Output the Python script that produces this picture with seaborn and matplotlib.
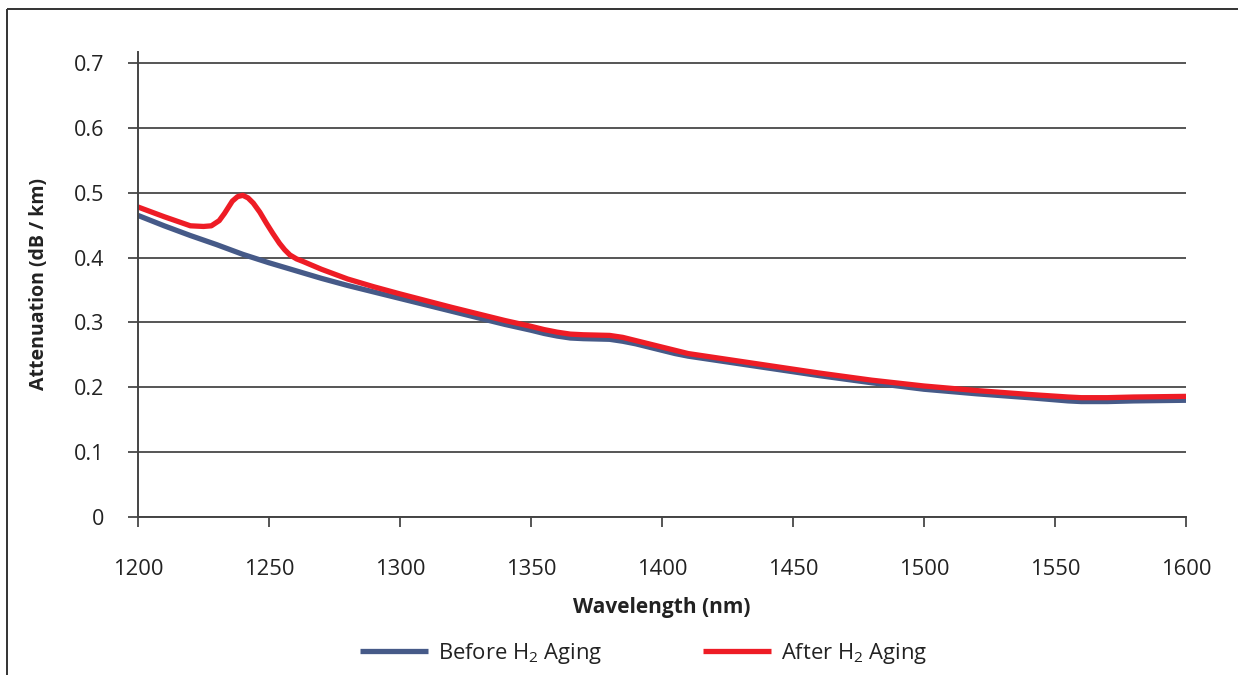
import numpy as np
import pandas as pd
import matplotlib
matplotlib.use("Agg")
import matplotlib.pyplot as plt
from matplotlib.lines import Line2D
import seaborn as sns

# ---- data ----
before_wl = [1200, 1210, 1220, 1230, 1240, 1250, 1260, 1270, 1280, 1290, 1300, 1320,
             1340, 1350, 1355, 1360, 1365, 1370, 1380, 1385, 1390, 1395, 1400, 1405,
             1410, 1420, 1440, 1460, 1480, 1500, 1520, 1540, 1555, 1560, 1570, 1580, 1600]
before_att = [0.465, 0.449, 0.434, 0.420, 0.405, 0.392, 0.380, 0.368, 0.357, 0.347,
              0.337, 0.317, 0.297, 0.288, 0.283, 0.279, 0.276, 0.275, 0.274, 0.271,
              0.267, 0.262, 0.257, 0.252, 0.248, 0.242, 0.230, 0.218, 0.207, 0.197,
              0.190, 0.184, 0.179, 0.178, 0.178, 0.179, 0.180]

after_wl = [1200, 1210, 1220, 1225, 1228, 1231, 1233, 1236, 1238, 1240, 1242, 1244,
            1246.5, 1249, 1251.5, 1254, 1256, 1258, 1260.5, 1263, 1270, 1280, 1290,
            1300, 1320, 1340, 1350, 1355, 1360, 1365, 1370, 1380, 1385, 1390, 1395,
            1400, 1405, 1410, 1420, 1440, 1460, 1480, 1500, 1520, 1540, 1555, 1560,
            1570, 1580, 1600]
after_att = [0.478, 0.463, 0.449, 0.448, 0.449, 0.457, 0.468, 0.487, 0.494, 0.496,
             0.492, 0.484, 0.470, 0.453, 0.437, 0.422, 0.412, 0.404, 0.398, 0.394,
             0.382, 0.367, 0.355, 0.344, 0.323, 0.303, 0.294, 0.289, 0.285, 0.282,
             0.281, 0.280, 0.277, 0.272, 0.267, 0.262, 0.257, 0.252, 0.246, 0.234,
             0.222, 0.211, 0.202, 0.195, 0.189, 0.185, 0.184, 0.184, 0.185, 0.186]

series_names = ["Before H$_2$ Aging", "After H$_2$ Aging"]
x_ticks = [1200, 1250, 1300, 1350, 1400, 1450, 1500, 1550, 1600]
y_ticks = [0, 0.1, 0.2, 0.3, 0.4, 0.5, 0.6, 0.7]
y_tick_labels = ["0", "0.1", "0.2", "0.3", "0.4", "0.5", "0.6", "0.7"]

df = pd.concat([
    pd.DataFrame({"wl": before_wl, "att": before_att, "series": series_names[0]}),
    pd.DataFrame({"wl": after_wl, "att": after_att, "series": series_names[1]}),
], ignore_index=True)

# ---- style ----
sns.set_style("white")
plt.rcParams["font.family"] = ["Open Sans", "DejaVu Sans"]
plt.rcParams["mathtext.fontset"] = "custom"
plt.rcParams["mathtext.rm"] = "Open Sans"
plt.rcParams["mathtext.it"] = "Open Sans:italic"
plt.rcParams["mathtext.bf"] = "Open Sans:bold"
plt.rcParams["lines.solid_joinstyle"] = "round"
plt.rcParams["lines.solid_capstyle"] = "butt"

fig = plt.figure(figsize=(12.38, 6.75), dpi=100)
ax = fig.add_axes([138 / 1238, 1 - 517 / 675, (1186 - 138) / 1238, (517 - 52) / 675])

palette = {series_names[0]: "#465a88", series_names[1]: "#ee1c25"}
sns.lineplot(data=df, x="wl", y="att", hue="series", palette=palette,
             linewidth=3.8, ax=ax, legend=False, sort=True)

ax.set_xlim(1200, 1600)
ax.set_ylim(0, 0.717)
ax.set_xticks(x_ticks)
ax.set_yticks(y_ticks)
ax.set_yticklabels(y_tick_labels)

gridc = "#555555"
ax.yaxis.grid(True, color=gridc, linewidth=1.4)
ax.xaxis.grid(False)
ax.set_axisbelow(True)
for s in ["top", "right"]:
    ax.spines[s].set_visible(False)
for s in ["left", "bottom"]:
    ax.spines[s].set_color("#444444")
    ax.spines[s].set_linewidth(1.4)

ax.tick_params(axis="y", direction="out", length=7.2, width=1.4, color=gridc,
               pad=17, labelsize=15.5, labelcolor="#222222")
ax.tick_params(axis="x", direction="out", length=7.2, width=1.4, color=gridc,
               pad=23, labelsize=15.8, labelcolor="#222222")
ax.tick_params(left=True, bottom=True)

ax.set_xlabel("Wavelength (nm)", fontsize=15, fontweight="bold", color="#222222", labelpad=12)
ax.set_ylabel("Attenuation (dB / km)", fontsize=14, fontweight="bold", color="#222222", labelpad=18)

handles = [Line2D([], [], color=palette[n], linewidth=3.8) for n in series_names]
fig.legend(handles, series_names, loc="center", bbox_to_anchor=(0.52, 1 - 653 / 675),
           ncol=2, frameon=False, fontsize=15.8, handlelength=3.1, handletextpad=0.45,
           columnspacing=4.6, labelcolor="#222222")

# frame lines (figure border)
fig.add_artist(Line2D([7 / 1238, 7 / 1238], [0, 1 - 9 / 675], transform=fig.transFigure,
                      color="#333333", linewidth=1.4))
fig.add_artist(Line2D([7 / 1238, 1], [1 - 9 / 675, 1 - 9 / 675], transform=fig.transFigure,
                      color="#333333", linewidth=1.4))

fig.savefig("out.png", dpi=100)
